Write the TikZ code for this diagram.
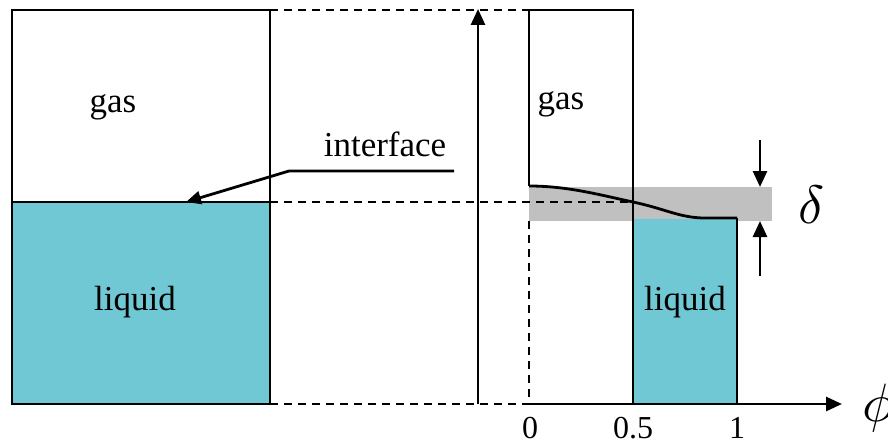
\documentclass[tikz,border=0pt]{standalone}
\usepackage{graphicx}
\usepackage{fontspec}
\setmainfont{Liberation Serif}
\usetikzlibrary{arrows.meta}
\definecolor{liq}{RGB}{112,200,212}
\definecolor{band}{RGB}{192,192,192}
\begin{document}
\begin{tikzpicture}[x=1pt,y=-1pt,
  ln/.style={line width=2.8pt},
  dsh/.style={line width=2.8pt,dash pattern=on 8pt off 6pt},
  arr/.style={line width=2.8pt,-{Triangle[length=16pt,width=14pt]}},
  lbl/.style={inner sep=0pt,font=\fontsize{35}{40}\selectfont},
  num/.style={inner sep=0pt,font=\fontsize{32}{36}\selectfont},
  grk/.style={inner sep=0pt}]
\useasboundingbox (0,0) rectangle (888,444);
% named coordinates
\coordinate (LTL) at (12,10);
\coordinate (LBR) at (270,404);
\coordinate (LIL) at (12,202);
\coordinate (LIR) at (270,202);
\coordinate (LTR) at (270,10);
\coordinate (RTL) at (529,10);
\coordinate (RTR) at (633,10);
\coordinate (O) at (529,404);
\coordinate (H) at (633,404);
\coordinate (One) at (737,404);
\coordinate (AxEnd) at (842,404);
\coordinate (C0) at (529,186);
\coordinate (C1) at (633,202);
\coordinate (C2) at (737,218);
% fills
\fill[band] (529,187) rectangle (772,221);
\fill[liq] (LIL) rectangle (LBR);
\fill[liq] (633,219) rectangle (One);
% left box
\draw[ln] (LTL) rectangle (LBR);
\draw[ln] (LIL) -- (LIR);
% dashed guides
\draw[dsh] (LTR) -- (RTL);
\draw[dsh] (LIR) -- (C1);
\draw[dsh] (LBR) -- (O);
\draw[dsh] (529,221) -- (O);
% vertical axis arrow
\coordinate (VA0) at (478,404);
\coordinate (VA1) at (478,9);
\draw[arr] (VA0) -- (VA1);
% right upper box
\draw[ln] (C0) -- (RTL) -- (RTR) -- (H);
\draw[ln] (C2) -- (One);
% profile curve
\draw[ln] (C0) .. controls (568,186) and (600,195) .. (C1)
  .. controls (666,209) and (680,218) .. (705,218) -- (C2);
% phi axis
\draw[arr] (O) -- (AxEnd);
% delta arrows
\coordinate (D0) at (760,140);
\coordinate (D1) at (760,187);
\coordinate (D2) at (760,276);
\coordinate (D3) at (760,221);
\draw[arr] (D0) -- (D1);
\draw[arr] (D2) -- (D3);
% interface leader
\coordinate (I0) at (454,171);
\coordinate (I1) at (289,171);
\coordinate (I2) at (186,202);
\draw[ln,-{Triangle[length=15pt,width=13pt]}] (I0) -- (I1) -- (I2);
% labels
\node[lbl] (gasL) at (113,107) {gas};
\node[lbl] (liqL) at (135,302) {liquid};
\node[lbl] (gasR) at (561,104) {gas};
\node[lbl] (liqR) at (685,302) {liquid};
\node[lbl] (intf) at (385,144) {interface};
\node[num] (n0) at (530,428) {0};
\node[num] (n05) at (633,428) {0.5};
\node[num] (n1) at (737,428) {1};
\node[grk] (del) at (812,205) {\scalebox{5.4}{$\delta$}};
\node[grk,anchor=west] (phi) at (862,408) {\scalebox{5.4}{$\phi$}};
\end{tikzpicture}
\end{document}
